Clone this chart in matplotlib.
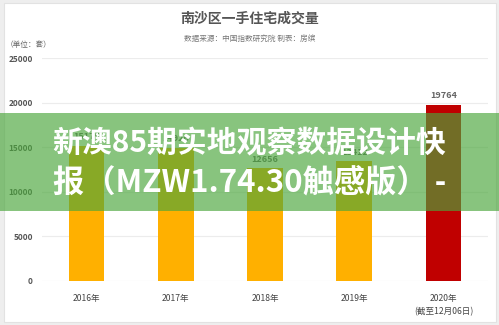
import matplotlib
matplotlib.use("Agg")
import matplotlib.pyplot as plt
from matplotlib.patches import Rectangle

plt.rcParams['font.family'] = ['Noto Sans CJK SC', 'DejaVu Sans']

years = ["2016年", "2017年", "2018年", "2019年", "2020年\n(截至12月06日)"]
sales = [15175, 14926, 12656, 13412, 19764]
colors = ["#FFB000", "#FFB000", "#FFB000", "#FFB000", "#C00000"]
yticks = [0, 5000, 10000, 15000, 20000, 25000]

W, H = 499, 325
fig = plt.figure(figsize=(W / 100, H / 100), dpi=100, facecolor="#eeeeee")

# white card behind the chart
card = Rectangle((4 / W, 3 / H), 492 / W, 319 / H, transform=fig.transFigure,
                 facecolor="white", edgecolor="#e2e2e2", lw=0.8, zorder=0)
fig.patches.append(card)

ax = fig.add_axes([42 / W, 44 / H, 446 / W, 223 / H])
ax.set_zorder(1)
ax.set_facecolor("none")
x = range(len(years))
ax.bar(x, sales, width=0.4, color=colors, zorder=2)
for i, v in enumerate(sales):
    ax.text(i, v + 500, str(v), ha="center", va="bottom", fontsize=6.5,
            fontweight="bold", color="#666666", zorder=3)

ax.set_xlim(-0.5, 4.5)
ax.set_ylim(0, 25000)
ax.set_yticks(yticks)
ax.set_yticklabels([str(t) for t in yticks], fontsize=6, fontweight="bold", color="#555555")
ax.set_xticks(list(x))
ax.set_xticklabels(years, fontsize=6.2, fontweight="medium", color="#444444", linespacing=1.7)
ax.tick_params(length=0, pad=9)
ax.tick_params(axis="y", pad=6.5)
ax.grid(axis="y", color="#ececec", lw=0.8, zorder=1)
for s in ax.spines.values():
    s.set_visible(False)

fig.text(0.5, 1 - 19 / H, "南沙区一手住宅成交量", ha="center", va="center",
         fontsize=10, fontweight="bold", color="#555555")
fig.text(0.5, 1 - 39 / H, "数据来源：中国指数研究院 制表：房缤", ha="center", va="center",
         fontsize=5.5, color="#777777")
fig.text(6 / W, 1 - 45 / H, "（单位：套）", ha="left", va="center", fontsize=5.5, color="#666666")

# green banner over the middle
banner = Rectangle((0, 1 - 211 / H), 1, 98 / H, transform=fig.transFigure,
                   facecolor=(74 / 255, 166 / 255, 59 / 255), alpha=0.66,
                   edgecolor="none", zorder=5)
fig.patches.append(banner)
fig.text(0.5, 1 - 143 / H, "新澳85期实地观察数据设计快", ha="center", va="center",
         fontsize=21.5, fontweight="black", color="white", zorder=6)
fig.text(0.5, 1 - 182 / H, "报（MZW1.74.30触感版） -", ha="center", va="center",
         fontsize=22.5, fontweight="black", color="white", zorder=6)

fig.savefig("out.png", dpi=100, facecolor=fig.get_facecolor())
